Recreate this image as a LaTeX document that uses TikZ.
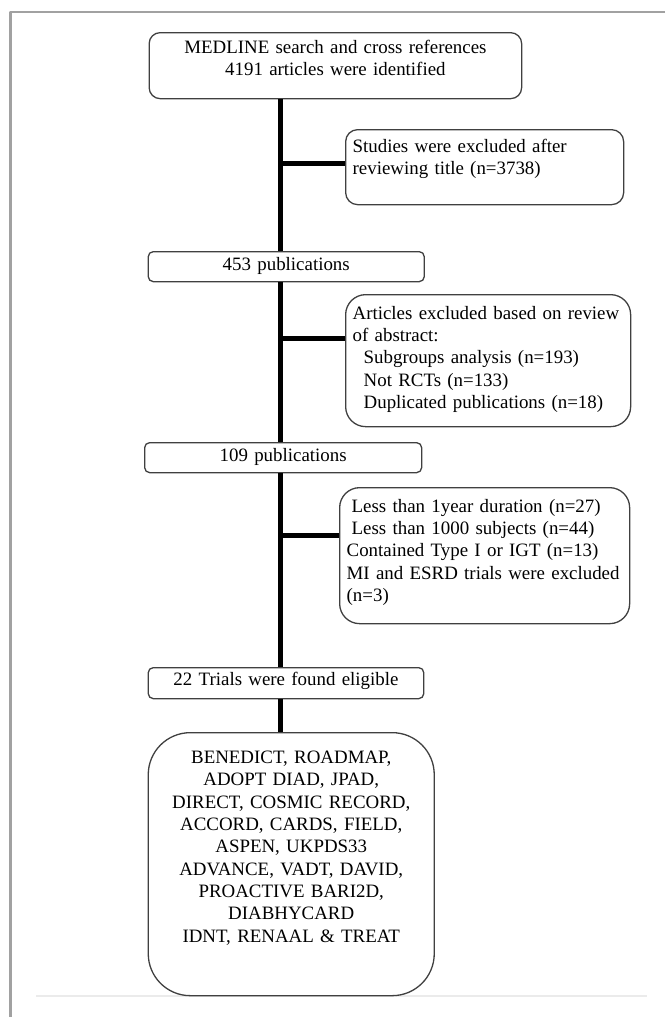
\documentclass[tikz,border=0pt]{standalone}
\usepackage{fontspec}
\setmainfont{Liberation Serif}
\begin{document}
\begin{tikzpicture}[x=1pt,y=-1pt,line join=round,
  box/.style={draw=black!75,line width=1.3pt,fill=white,anchor=north west,inner xsep=7pt,inner ysep=0pt,font=\fontsize{18.9}{22.3}\selectfont},
  trunk/.style={line width=5pt}]
\useasboundingbox (0,0) rectangle (665,1017);
% page frame
\draw[line width=2.6pt,color=black!37] (665,12) -- (10.5,12) -- (10.5,1017);
\draw[line width=1.5pt,color=black!8] (36,996) -- (647,996);
% boxes
\node[box,rounded corners=11pt,align=center,text width=358.5pt,text height=21pt,text depth=45pt] (medline) at (148.5,32) {MEDLINE search and cross references\\4191 articles were identified};
\node[box,rounded corners=12pt,align=left,text width=264pt,text height=22.5pt,text depth=52.5pt] (titles) at (345,129) {Studies were excluded after\\reviewing title (n=3738)};
\node[box,rounded corners=5pt,align=center,text width=262pt,text height=18.5pt,text depth=11.5pt] (pub453) at (147.6,251) {453 publications};
\node[box,rounded corners=20pt,align=left,text width=271pt,text height=24.5pt,text depth=107.5pt] (abstract) at (345,294) {Articles excluded based on review\\of abstract:\\\hspace*{11pt}Subgroups analysis (n=193)\\\hspace*{11pt}Not RCTs (n=133)\\\hspace*{11pt}Duplicated publications (n=18)};
\node[box,rounded corners=5pt,align=center,text width=263pt,text height=19pt,text depth=11pt] (pub109) at (144,442) {109 publications};
\node[box,rounded corners=20pt,align=left,text width=276pt,text height=24.5pt,text depth=111.5pt] (criteria) at (339,487) {\hspace*{5pt}Less than 1year duration (n=27)\\\hspace*{5pt}Less than 1000 subjects (n=44)\\Contained Type I or IGT (n=13)\\MI and ESRD trials were excluded\\(n=3)};
\node[box,rounded corners=5pt,align=center,text width=261.5pt,text height=18pt,text depth=13pt] (eligible) at (147.6,667) {22 Trials were found eligible};
\node[box,rounded corners=42pt,align=center,text width=272pt,text height=31pt,text depth=232pt] (trials) at (147.6,732) {BENEDICT, ROADMAP,\\ADOPT DIAD, JPAD,\\DIRECT, COSMIC RECORD,\\ACCORD, CARDS, FIELD,\\ASPEN, UKPDS33\\ADVANCE, VADT, DAVID,\\PROACTIVE BARI2D,\\DIABHYCARD\\IDNT, RENAAL \& TREAT};
% main line and side branches
\coordinate (spine) at (280,0);
\draw[trunk] (medline.south -| spine) -- (pub453.north -| spine);
\draw[trunk] (pub453.south -| spine) -- (pub109.north -| spine);
\draw[trunk] (pub109.south -| spine) -- (eligible.north -| spine);
\draw[trunk] (eligible.south -| spine) -- (trials.north -| spine);
\coordinate (b1) at (280,163.5);
\coordinate (b2) at (280,338);
\coordinate (b3) at (280,535);
\draw[trunk] (b1) -- (b1 -| titles.west);
\draw[trunk] (b2) -- (b2 -| abstract.west);
\draw[trunk] (b3) -- (b3 -| criteria.west);
\end{tikzpicture}
\end{document}
